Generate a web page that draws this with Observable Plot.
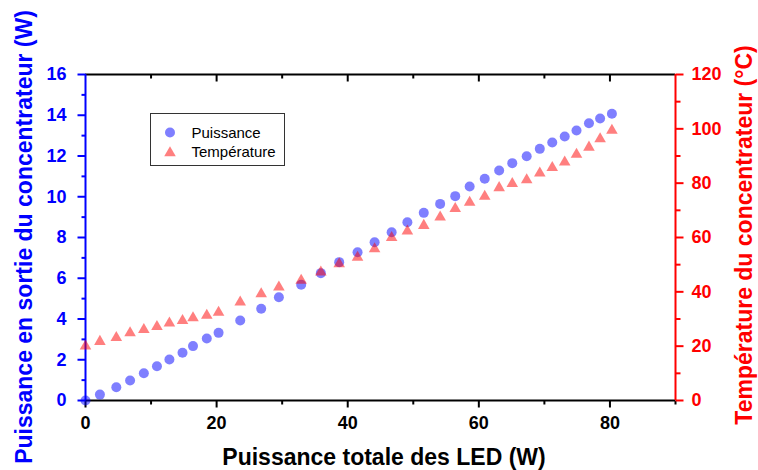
<!DOCTYPE html>
<html><head><meta charset="utf-8">
<script src="https://cdn.jsdelivr.net/npm/d3@7"></script>
<script src="https://cdn.jsdelivr.net/npm/@observablehq/plot@0.6"></script>
<style>body{margin:0;background:#fff}#chart{width:758px;height:470px}</style>
</head><body><div id="chart"></div>
<script>
// Puissance totale des LED (W)
const ledPower = [0, 2.2, 4.7, 6.8, 8.9, 10.9, 12.8, 14.8, 16.4, 18.5, 20.3, 23.6, 26.8, 29.5, 32.9, 35.9, 38.7, 41.5, 44.1, 46.7, 49.1, 51.6, 54.1, 56.4, 58.6, 60.9, 63.1, 65.1, 67.3, 69.3, 71.2, 73.1, 74.9, 76.8, 78.5, 80.3];
// Puissance en sortie du concentrateur (W)
const outputPower = [0, 0.29, 0.65, 0.98, 1.34, 1.68, 2.01, 2.34, 2.67, 3.04, 3.32, 3.93, 4.5, 5.07, 5.68, 6.25, 6.79, 7.28, 7.77, 8.26, 8.75, 9.21, 9.65, 10.03, 10.5, 10.88, 11.29, 11.65, 11.99, 12.35, 12.66, 12.96, 13.25, 13.61, 13.84, 14.07];
// Température du concentrateur (°C)
const temperature = [20.0, 21.7, 23.1, 24.9, 26.1, 27.2, 28.5, 29.4, 30.4, 31.3, 32.4, 36.2, 39.2, 41.7, 44.2, 47.2, 50.3, 52.7, 55.8, 59.9, 62.3, 64.4, 67.5, 70.6, 72.9, 75.1, 78.3, 79.8, 81.2, 83.7, 85.7, 87.7, 90.6, 93.2, 96.3, 99.4];

const xMajor = [0, 20, 40, 60, 80];
const xMinor = [10, 30, 50, 70, 90];
const leftMajor = [0, 2, 4, 6, 8, 10, 12, 14, 16];
const leftMinor = [1, 3, 5, 7, 9, 11, 13, 15];
const rightMajor = [0, 20, 40, 60, 80, 100, 120];
const rightMinor = [10, 30, 50, 70, 90, 110];
const xDomain = [0, 90];
const leftDomain = [0, 16];
const rightDomain = [0, 120];

const k = leftDomain[1] / rightDomain[1];
const powerData = ledPower.map((x, i) => ({x, y: outputPower[i]}));
const tempData = ledPower.map((x, i) => ({x, y: temperature[i] * k}));

// tick-shaped symbols (fixed pixel length, direction dx,dy)
const tickSym = (dx, dy) => ({draw(ctx) { ctx.moveTo(0, 0); ctx.lineTo(dx, dy); }});
const tickOpts = (color) => ({fill: "none", stroke: color, strokeWidth: 2, r: 3});

const chart = Plot.plot({
  width: 758, height: 470,
  marginLeft: 85, marginRight: 83, marginTop: 74, marginBottom: 70,
  style: {fontFamily: "'Liberation Sans', Arial, sans-serif", fontSize: "18px", fontWeight: "bold", background: "#fff"},
  x: {domain: xDomain},
  y: {domain: leftDomain},
  marks: [
    // frame
    Plot.ruleY([leftDomain[0], leftDomain[1]], {stroke: "black", strokeWidth: 2}),
    Plot.ruleX([xDomain[0]], {stroke: "blue", strokeWidth: 2}),
    Plot.ruleX([xDomain[1]], {stroke: "red", strokeWidth: 2}),
    // tick labels
    Plot.axisX({anchor: "bottom", ticks: xMajor, tickSize: 0, tickPadding: 16, fill: "black", label: null}),
    Plot.axisY({anchor: "left", ticks: leftMajor, tickSize: 0, tickPadding: 19, fill: "blue", label: null}),
    Plot.axisY({anchor: "right", ticks: rightMajor.map(d => d * k), tickFormat: d => String(Math.round(d / k)), tickSize: 0, tickPadding: 16, fill: "red", label: null}),
    // tick marks
    Plot.dot(xMajor, {x: d => d, frameAnchor: "bottom", symbol: tickSym(0, 7), ...tickOpts("black")}),
    Plot.dot(xMinor, {x: d => d, frameAnchor: "bottom", symbol: tickSym(0, 4), ...tickOpts("black")}),
    Plot.dot(xMajor.filter(d => d > 0), {x: d => d, frameAnchor: "top", symbol: tickSym(0, 7), ...tickOpts("black")}),
    Plot.dot(xMinor.filter(d => d < 90), {x: d => d, frameAnchor: "top", symbol: tickSym(0, 4), ...tickOpts("black")}),
    Plot.dot(leftMajor, {y: d => d, frameAnchor: "left", symbol: tickSym(-8, 0), ...tickOpts("blue")}),
    Plot.dot(leftMinor, {y: d => d, frameAnchor: "left", symbol: tickSym(-4, 0), ...tickOpts("blue")}),
    Plot.dot(rightMajor, {y: d => d * k, frameAnchor: "right", symbol: tickSym(8, 0), ...tickOpts("red")}),
    Plot.dot(rightMinor, {y: d => d * k, frameAnchor: "right", symbol: tickSym(5, 0), ...tickOpts("red")}),
    // data
    Plot.dot(powerData, {x: "x", y: "y", r: 5, fill: "blue", fillOpacity: 0.5, stroke: "none"}),
    Plot.dot(tempData, {x: "x", y: "y", r: 4.3, symbol: "triangle", fill: "red", fillOpacity: 0.5, stroke: "none"})
  ]
});

const svg = d3.select(chart);
const F = "'Liberation Sans', Arial, sans-serif";
// axis titles
svg.append("text").attr("transform", "translate(31.5,237) rotate(-90)").attr("text-anchor", "middle")
  .attr("fill", "blue").attr("font-size", 23).attr("font-weight", "bold").attr("font-family", F)
  .text("Puissance en sortie du concentrateur (W)");
svg.append("text").attr("transform", "translate(752,235) rotate(-90)").attr("text-anchor", "middle")
  .attr("fill", "red").attr("font-size", 23).attr("font-weight", "bold").attr("font-family", F)
  .text("Température du concentrateur (°C)");
svg.append("text").attr("x", 384).attr("y", 464.5).attr("text-anchor", "middle")
  .attr("fill", "black").attr("font-size", 23).attr("font-weight", "bold").attr("font-family", F)
  .text("Puissance totale des LED (W)");
// legend
const lg = svg.append("g").attr("font-family", F).attr("font-size", 15).attr("font-weight", "normal").attr("text-anchor", "start");
lg.append("rect").attr("x", 150.5).attr("y", 113.5).attr("width", 134).attr("height", 52)
  .attr("fill", "white").attr("stroke", "#333").attr("stroke-width", 1);
lg.append("circle").attr("cx", 170).attr("cy", 132.5).attr("r", 5).attr("fill", "blue").attr("fill-opacity", 0.5);
lg.append("path").attr("d", d3.symbol(d3.symbolTriangle, Math.PI * 4.3 * 4.3)()).attr("transform", "translate(170,153)")
  .attr("fill", "red").attr("fill-opacity", 0.5);
lg.append("text").attr("x", 191.5).attr("y", 138).attr("fill", "black").attr("text-anchor", "start").text("Puissance");
lg.append("text").attr("x", 191.5).attr("y", 157).attr("fill", "black").attr("text-anchor", "start").text("Température");

document.getElementById("chart").appendChild(chart);
</script></body></html>
